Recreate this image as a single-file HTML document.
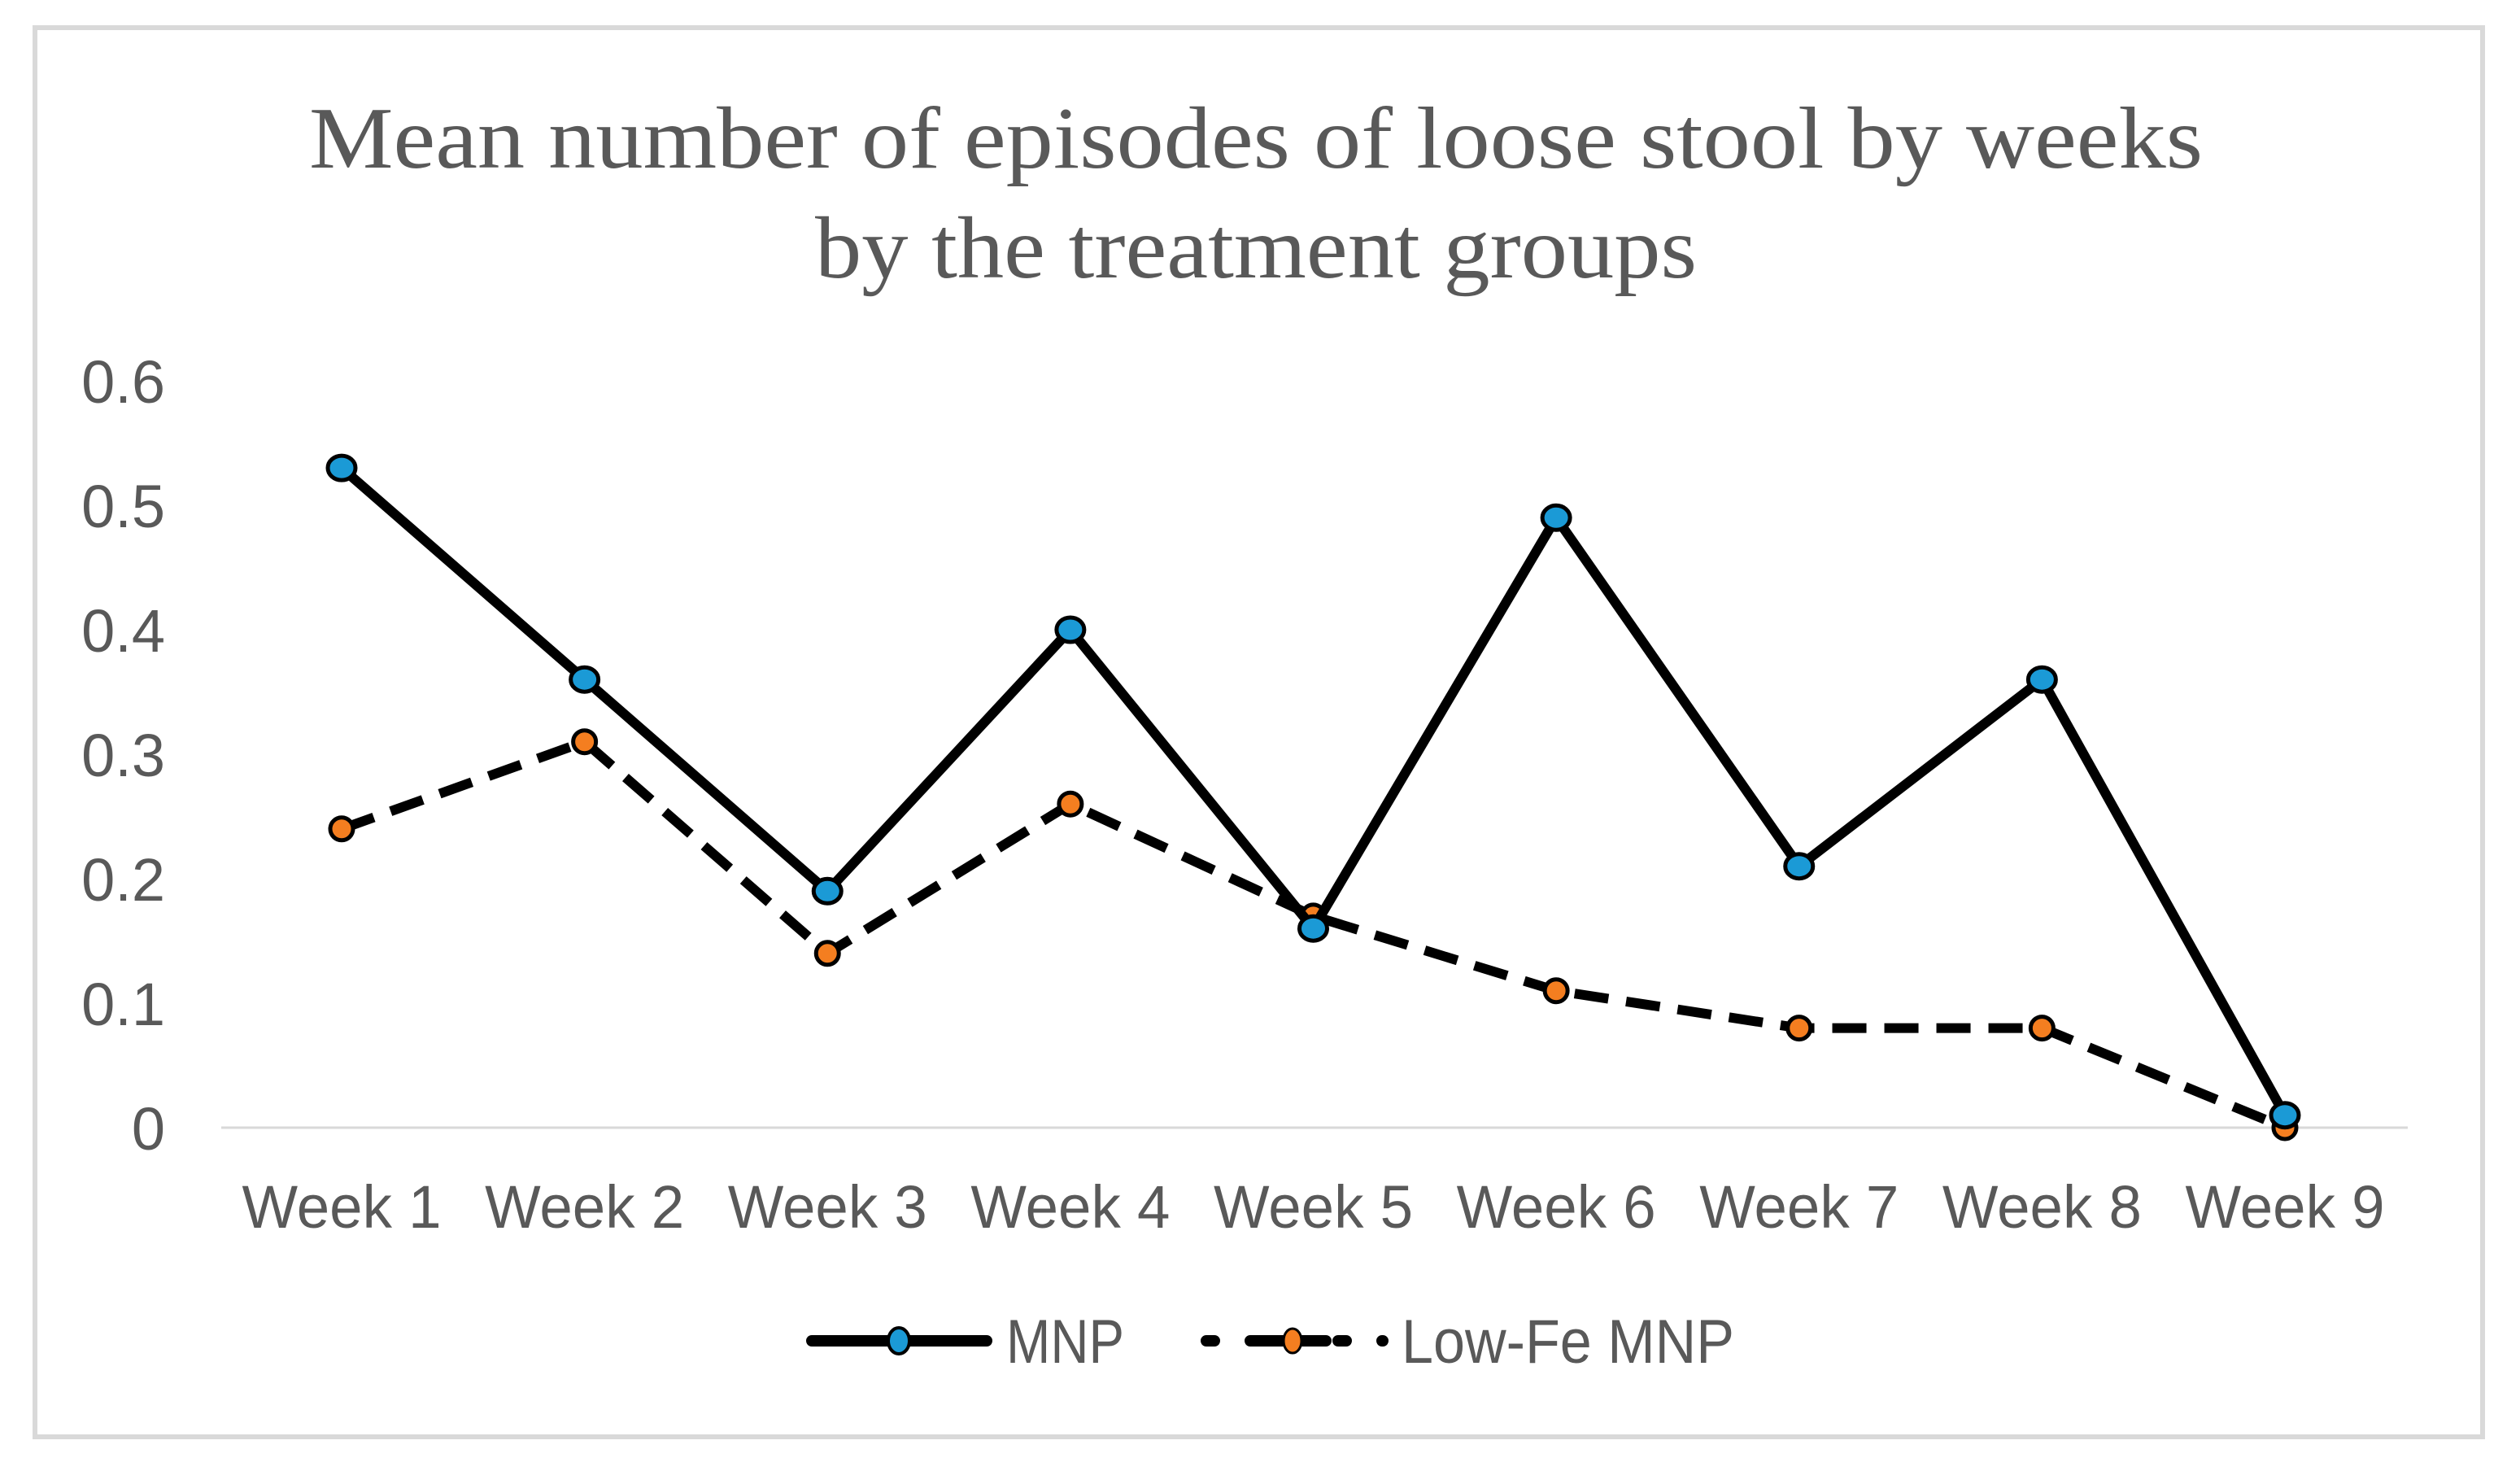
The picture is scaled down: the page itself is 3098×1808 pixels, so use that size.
<!DOCTYPE html>
<html><head><meta charset="utf-8"><style>
html,body{margin:0;padding:0;background:#fff;}
svg{display:block;}
</style></head><body>
<svg id="chart" width="3098" height="1808" viewBox="0 0 3098 1808" xmlns="http://www.w3.org/2000/svg">
<rect x="43" y="34" width="3009" height="1732" fill="#fff" stroke="#d9d9d9" stroke-width="6"/>
<text x="1544" y="206" text-anchor="middle" font-family="Liberation Serif, serif" font-size="108" fill="#595959" textLength="2328" lengthAdjust="spacingAndGlyphs">Mean number of episodes of loose stool by weeks</text>
<text x="1544" y="341" text-anchor="middle" font-family="Liberation Serif, serif" font-size="108" fill="#595959" textLength="1084" lengthAdjust="spacingAndGlyphs">by the treatment groups</text>
<g id="yticks"></g>
<g id="xticks"></g>
<line x1="272" y1="1386" x2="2960" y2="1386" stroke="#d9d9d9" stroke-width="3"/>
<g id="series"></g>
<g id="legend">
  <g>
    <line x1="998" y1="1648" x2="1213" y2="1648" stroke="#000" stroke-width="14" stroke-linecap="round"/>
    <ellipse cx="1105" cy="1648" rx="13" ry="16" fill="#1b9ad6" stroke="#000" stroke-width="4"/>
    <text x="1237" y="1675" font-family="Liberation Sans, sans-serif" font-size="76" fill="#595959" textLength="145" lengthAdjust="spacingAndGlyphs">MNP</text>
  </g>
  <g>
    <line x1="1483" y1="1648" x2="1700" y2="1648" stroke="#000" stroke-width="14" stroke-linecap="round" stroke-dasharray="10,44"/>
    <line x1="1548" y1="1648" x2="1630" y2="1648" stroke="#000" stroke-width="14" stroke-linecap="round"/>
    <ellipse cx="1589" cy="1648" rx="11" ry="15" fill="#f47e20" stroke="#000" stroke-width="3"/>
    <text x="1723" y="1675" font-family="Liberation Sans, sans-serif" font-size="76" fill="#595959" textLength="409" lengthAdjust="spacingAndGlyphs">Low-Fe MNP</text>
  </g>
</g>
</svg>
<script>
const categories = ["Week 1","Week 2","Week 3","Week 4","Week 5","Week 6","Week 7","Week 8","Week 9"];
const mnpValues = [0.53,0.36,0.19,0.40,0.16,0.49,0.21,0.36,0.01];
const lowFeValues = [0.24,0.31,0.14,0.26,0.17,0.11,0.08,0.08,0.00];
const yTickValues = [0,0.1,0.2,0.3,0.4,0.5,0.6];
const yTickLabels = ["0","0.1","0.2","0.3","0.4","0.5","0.6"];

const NS = "http://www.w3.org/2000/svg";
function xScale(i){ return 420 + i * (2809 - 420) / (categories.length - 1); }
function yScale(v){ return 1386 - v * 1530; }
function mk(tag, attrs, parent){
  const e = document.createElementNS(NS, tag);
  for (const k in attrs) e.setAttribute(k, attrs[k]);
  parent.appendChild(e);
  return e;
}
const yg = document.getElementById('yticks');
yTickValues.forEach((v, i) => {
  const t = mk('text', {x: 203, y: yScale(v) + 27, 'text-anchor': 'end', 'font-family': 'Liberation Sans, sans-serif', 'font-size': 74, fill: '#595959'}, yg);
  
  
  t.textContent = yTickLabels[i];
});
const xg = document.getElementById('xticks');
categories.forEach((c, i) => {
  const t = mk('text', {x: xScale(i), y: 1509, 'text-anchor': 'middle', 'font-family': 'Liberation Sans, sans-serif', 'font-size': 74, fill: '#595959', textLength: 245, lengthAdjust: 'spacingAndGlyphs'}, xg);
  
  
  t.textContent = c;
});
const sg = document.getElementById('series');
function drawSeries(vals, name, color, dash, rx, ry){
  const pts = vals.map((v, i) => xScale(i) + ',' + yScale(v)).join(' ');
  const pl = mk('polyline', {points: pts, fill: 'none', stroke: '#000', 'stroke-width': 12, 'stroke-linejoin': 'round'}, sg);
  if (dash) pl.setAttribute('stroke-dasharray', dash);
  
  
  vals.forEach((v, i) => {
    const m = mk('ellipse', {cx: xScale(i), cy: yScale(v), rx: rx, ry: ry, fill: color, stroke: '#000', 'stroke-width': 5}, sg);
    
    
  });
}
drawSeries(lowFeValues, 'low-fe-mnp', '#f47e20', '42,22', 14, 14);
drawSeries(mnpValues, 'mnp', '#1b9ad6', null, 17, 15);
</script>
</body></html>
